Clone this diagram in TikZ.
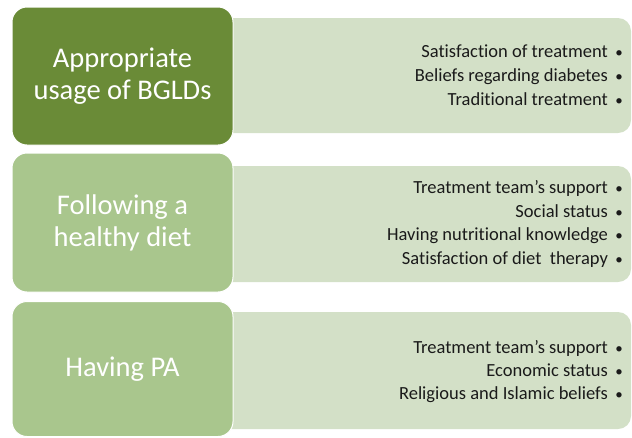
\documentclass[tikz,border=0pt]{standalone}
\usepackage{fontspec}
\setmainfont{Carlito}[Ligatures={NoCommon,NoDiscretionary}]
\definecolor{darkbox}{HTML}{6A8B37}
\definecolor{lightbox}{HTML}{A9C68D}
\definecolor{panelc}{HTML}{D3E0C7}
\definecolor{itemtxt}{HTML}{1A1A1A}
\tikzset{
  catbox/.style={rounded corners=15pt, draw=white, line width=1pt, minimum width=221pt, inner sep=0pt,
    text=white, align=center, font=\fontsize{28.5}{32}\selectfont},
  panelbox/.style={rounded corners=13pt, fill=panelc, draw=none, minimum width=481pt, inner sep=0pt},
  item/.style={anchor=base east, text=itemtxt, inner sep=0pt, font=\fontsize{18.5}{20}\selectfont}
}
\newcommand{\blt}{\hspace{0.4em}{\fontsize{15}{15}\selectfont•}}
\begin{document}
\begin{tikzpicture}[x=1pt,y=-1pt]
\useasboundingbox (0,0) rectangle (632,437);
% panels
\node[panelbox, minimum height=115pt] (p1) at (390.5,75.5) {};
\node[panelbox, minimum height=116pt] (p2) at (390.5,224) {};
\node[panelbox, minimum height=117pt] (p3) at (390.5,370.5) {};
% category boxes
\node[catbox, fill=darkbox, minimum height=138pt] (b1) at (122.5,76) {Appropriate\\usage of BGLDs};
\node[catbox, fill=lightbox, minimum height=139pt] (b2) at (122.5,222.5) {Following a\\healthy diet};
\node[catbox, fill=lightbox, minimum height=135pt] (b3) at (122.5,369) {Having PA};
% items
\node[item] (i11) at (623,57) {Satisfaction of treatment\blt};
\node[item] (i12) at (623,81) {Beliefs regarding diabetes\blt};
\node[item] (i13) at (623,105) {Traditional treatment\blt};
\node[item] (i21) at (623,193) {Treatment team’s support\blt};
\node[item] (i22) at (623,217) {Social status\blt};
\node[item] (i23) at (623,240.5) {Having nutritional knowledge\blt};
\node[item] (i24) at (623,264) {Satisfaction of diet\ \ therapy\blt};
\node[item] (i31) at (623,353) {Treatment team’s support\blt};
\node[item] (i32) at (623,376) {Economic status\blt};
\node[item] (i33) at (623,399) {Religious and Islamic beliefs\blt};
\end{tikzpicture}
\end{document}
